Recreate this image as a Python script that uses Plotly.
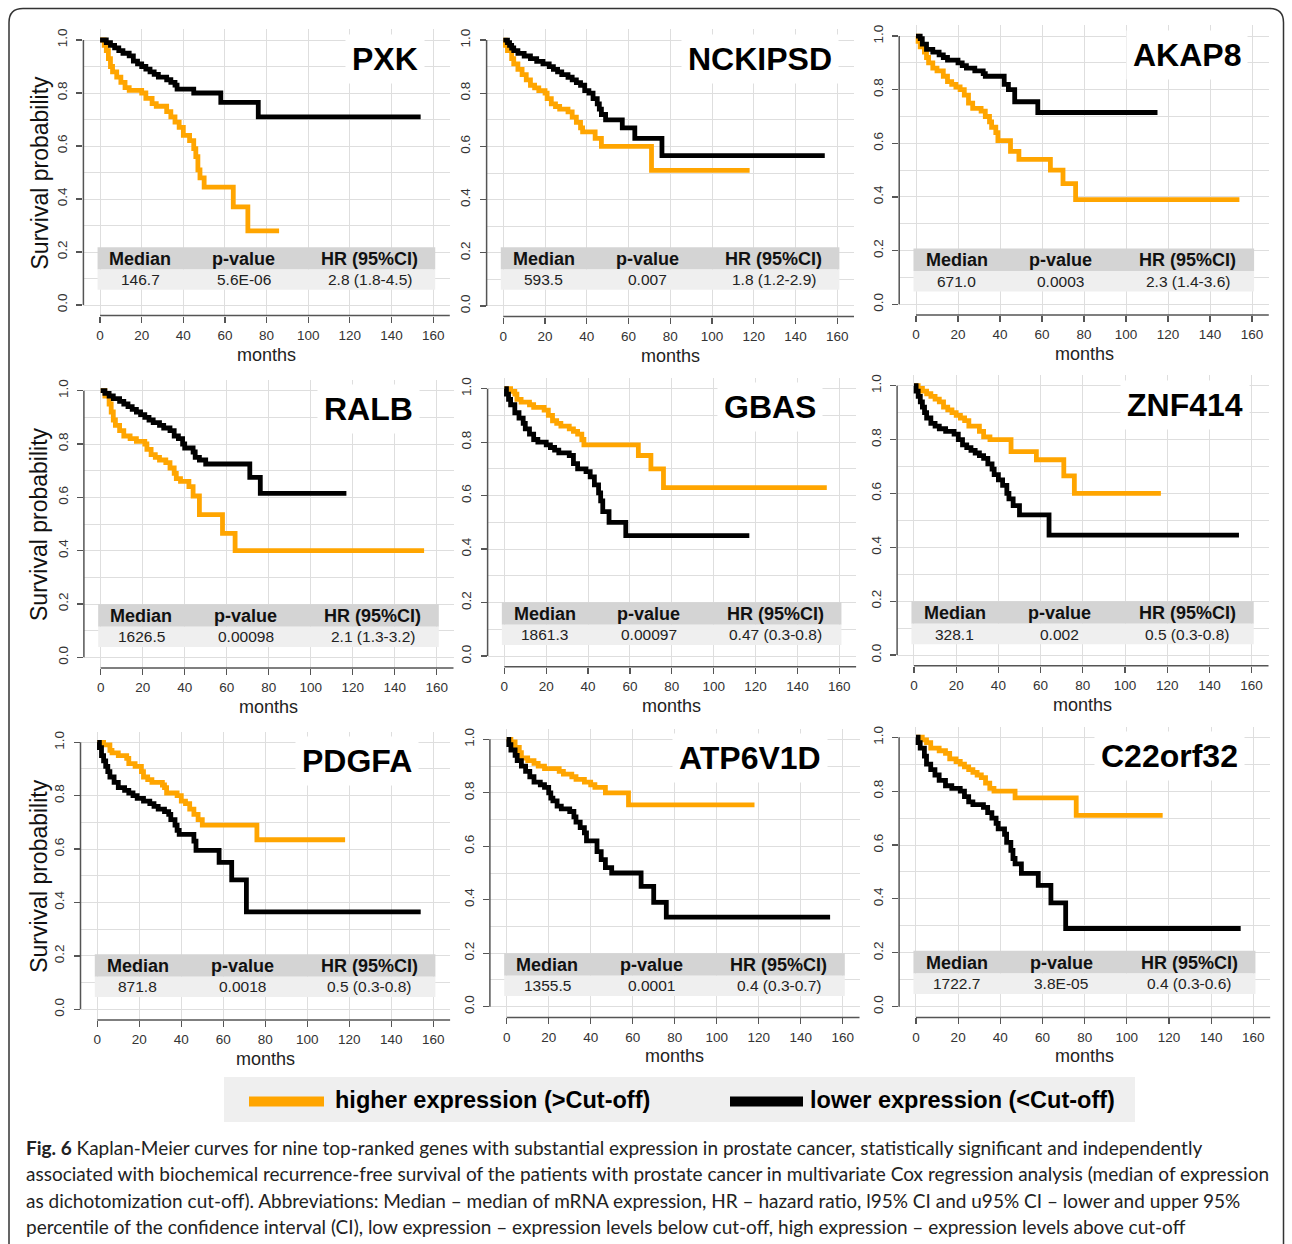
import plotly.graph_objects as go

# ---------------- data ----------------
genes = ["PXK", "NCKIPSD", "AKAP8", "RALB", "GBAS", "ZNF414", "PDGFA", "ATP6V1D", "C22orf32"]
medians = ["146.7", "593.5", "671.0", "1626.5", "1861.3", "328.1", "871.8", "1355.5", "1722.7"]
pvalues = ["5.6E-06", "0.007", "0.0003", "0.00098", "0.00097", "0.002", "0.0018", "0.0001", "3.8E-05"]
hrs = ["2.8 (1.8-4.5)", "1.8 (1.2-2.9)", "2.3 (1.4-3.6)", "2.1 (1.3-3.2)", "0.47 (0.3-0.8)",
       "0.5 (0.3-0.8)", "0.5 (0.3-0.8)", "0.4 (0.3-0.7)", "0.4 (0.3-0.6)"]
table_headers = ["Median", "p-value", "HR (95%CI)"]
x_ticks = [0, 20, 40, 60, 80, 100, 120, 140, 160]
y_ticks = [0.0, 0.2, 0.4, 0.6, 0.8, 1.0]

pxk_hi_t = [0, 2, 3, 4, 5, 6, 8, 10, 12, 14, 20, 22, 25, 27, 32, 34, 36, 38, 40, 43, 45, 46, 47, 48, 50, 64, 71, 86]
pxk_hi_s = [1, .98, .96, .93, .90, .88, .86, .84, .82, .81, .80, .78, .76, .75, .73, .71, .69, .67, .64, .62, .59, .56, .51, .48, .445, .37, .28, .28]
pxk_lo_t = [0, 3, 5, 7, 9, 11, 14, 16, 18, 20, 22, 24, 26, 28, 32, 34, 36, 37, 45, 58, 76, 154]
pxk_lo_s = [1, .99, .98, .97, .96, .95, .94, .92, .91, .90, .89, .88, .87, .86, .85, .84, .83, .815, .80, .765, .71, .71]

nck_hi_t = [0, 1, 2, 4, 5, 7, 9, 11, 13, 15, 17, 20, 21, 23, 25, 27, 31, 33, 35, 37, 38, 44, 47, 71, 118]
nck_hi_s = [1, .98, .96, .93, .91, .89, .87, .85, .83, .82, .81, .80, .78, .76, .75, .74, .73, .71, .69, .67, .655, .63, .60, .51, .51]
nck_lo_t = [0, 2, 3, 4, 5, 7, 10, 13, 16, 19, 22, 24, 26, 28, 31, 33, 35, 37, 39, 41, 43, 45, 46, 47, 49, 57, 63, 76, 154]
nck_lo_s = [1, .99, .98, .97, .96, .95, .94, .93, .92, .91, .90, .89, .88, .87, .86, .85, .84, .83, .81, .80, .78, .76, .74, .72, .70, .67, .63, .565, .565]

akap_hi_t = [0, 1, 2, 4, 5, 6, 8, 10, 13, 15, 17, 19, 21, 23, 25, 27, 31, 33, 35, 36, 38, 39, 45, 49, 64, 70, 76, 154]
akap_hi_s = [1, .98, .96, .94, .92, .90, .88, .87, .85, .83, .82, .81, .80, .78, .75, .73, .72, .70, .68, .66, .64, .61, .57, .54, .50, .45, .39, .39]
akap_lo_t = [0, 2, 3, 5, 8, 11, 13, 15, 20, 22, 24, 28, 32, 33, 42, 44, 47, 58, 115]
akap_lo_s = [1, .99, .97, .95, .94, .93, .92, .91, .90, .89, .88, .87, .86, .85, .82, .80, .755, .715, .715]

ralb_hi_t = [0, 2, 4, 5, 6, 7, 9, 11, 14, 17, 21, 22, 24, 26, 28, 31, 33, 35, 36, 38, 42, 44, 47, 58, 64, 154]
ralb_hi_s = [1, .98, .95, .92, .89, .87, .85, .83, .82, .81, .80, .78, .76, .75, .74, .73, .71, .69, .67, .66, .64, .605, .535, .465, .40, .40]
ralb_lo_t = [0, 2, 4, 6, 9, 11, 13, 15, 17, 19, 21, 23, 25, 28, 30, 33, 35, 37, 39, 40, 44, 45, 47, 50, 71, 76, 117]
ralb_lo_s = [1, .99, .98, .97, .96, .95, .94, .93, .92, .91, .90, .89, .88, .87, .86, .85, .83, .82, .80, .785, .77, .75, .74, .725, .675, .615, .615]

gbas_hi_t = [0, 3, 5, 6, 8, 12, 14, 19, 21, 23, 25, 27, 31, 33, 35, 37, 38, 64, 70, 76, 154]
gbas_hi_s = [1, .99, .98, .96, .95, .94, .93, .92, .90, .88, .87, .86, .85, .84, .83, .81, .79, .75, .70, .63, .63]
gbas_lo_t = [0, 1, 2, 3, 5, 7, 9, 10, 12, 14, 16, 20, 22, 24, 26, 31, 33, 35, 39, 41, 43, 45, 46, 47, 50, 58, 117]
gbas_lo_s = [1, .98, .96, .94, .91, .89, .87, .85, .83, .81, .80, .79, .78, .77, .76, .75, .72, .70, .69, .67, .64, .61, .58, .54, .50, .45, .45]

znf_hi_t = [0, 2, 4, 6, 8, 10, 12, 14, 16, 18, 20, 22, 24, 26, 31, 33, 36, 46, 58, 71, 76, 117]
znf_hi_s = [1, .99, .98, .97, .96, .95, .94, .92, .91, .90, .89, .88, .87, .85, .83, .81, .80, .755, .725, .665, .60, .60]
znf_lo_t = [0, 1, 2, 3, 4, 5, 6, 8, 10, 12, 15, 19, 21, 23, 25, 27, 29, 31, 33, 35, 37, 38, 40, 42, 44, 45, 47, 50, 64, 154]
znf_lo_s = [1, .98, .96, .94, .92, .90, .88, .86, .85, .84, .83, .82, .80, .78, .77, .76, .75, .74, .73, .71, .69, .67, .65, .63, .60, .58, .555, .52, .445, .445]

pdgfa_hi_t = [0, 3, 6, 7, 10, 14, 15, 18, 21, 22, 24, 26, 31, 32, 33, 38, 40, 42, 44, 46, 48, 50, 76, 118]
pdgfa_hi_s = [1, .99, .97, .96, .95, .94, .92, .91, .89, .87, .86, .85, .84, .83, .81, .80, .78, .77, .75, .73, .71, .69, .635, .635]
pdgfa_lo_t = [0, 1, 2, 3, 4, 5, 6, 8, 10, 13, 15, 17, 19, 22, 25, 27, 29, 32, 34, 35, 37, 38, 39, 46, 47, 58, 64, 71, 154]
pdgfa_lo_s = [1, .98, .95, .93, .91, .89, .87, .85, .83, .82, .81, .80, .79, .78, .77, .76, .75, .74, .73, .71, .69, .67, .655, .63, .595, .55, .485, .365, .365]

atp_hi_t = [0, 2, 4, 6, 7, 10, 13, 15, 18, 25, 27, 31, 33, 37, 40, 42, 47, 58, 118]
atp_hi_s = [1, .99, .97, .95, .93, .92, .91, .90, .89, .88, .87, .86, .85, .84, .83, .82, .80, .755, .755]
atp_lo_t = [0, 1, 2, 4, 5, 7, 9, 11, 13, 16, 18, 20, 21, 22, 24, 26, 30, 32, 33, 35, 37, 38, 43, 45, 47, 50, 64, 70, 76, 154]
atp_lo_s = [1, .98, .96, .94, .92, .90, .88, .86, .84, .83, .82, .80, .78, .77, .75, .74, .73, .71, .69, .67, .65, .62, .58, .55, .52, .50, .45, .39, .335, .335]

c22_hi_t = [0, 3, 5, 7, 11, 14, 16, 19, 21, 23, 25, 27, 29, 31, 33, 35, 37, 47, 76, 117]
c22_hi_s = [1, .99, .98, .96, .95, .94, .92, .91, .90, .89, .88, .87, .86, .85, .83, .81, .80, .775, .71, .71]
c22_lo_t = [0, 1, 2, 4, 5, 7, 9, 11, 14, 17, 21, 23, 25, 27, 32, 34, 36, 38, 39, 42, 43, 45, 46, 47, 50, 58, 64, 71, 154]
c22_lo_s = [1, .98, .96, .93, .90, .88, .86, .84, .82, .81, .80, .78, .76, .75, .74, .72, .70, .68, .66, .64, .61, .58, .55, .53, .495, .45, .385, .29, .29]

high_curves = [(pxk_hi_t, pxk_hi_s), (nck_hi_t, nck_hi_s), (akap_hi_t, akap_hi_s), (ralb_hi_t, ralb_hi_s),
               (gbas_hi_t, gbas_hi_s), (znf_hi_t, znf_hi_s), (pdgfa_hi_t, pdgfa_hi_s), (atp_hi_t, atp_hi_s),
               (c22_hi_t, c22_hi_s)]
low_curves = [(pxk_lo_t, pxk_lo_s), (nck_lo_t, nck_lo_s), (akap_lo_t, akap_lo_s), (ralb_lo_t, ralb_lo_s),
              (gbas_lo_t, gbas_lo_s), (znf_lo_t, znf_lo_s), (pdgfa_lo_t, pdgfa_lo_s), (atp_lo_t, atp_lo_s),
              (c22_lo_t, c22_lo_s)]

legend_labels = ["higher expression (>Cut-off)", "lower expression (<Cut-off)"]
caption_lines = [
    "<b>Fig. 6</b> Kaplan-Meier curves for nine top-ranked genes with substantial expression in prostate cancer, statistically significant and independently",
    "associated with biochemical recurrence-free survival of the patients with prostate cancer in multivariate Cox regression analysis (median of expression",
    "as dichotomization cut-off). Abbreviations: Median \u2013 median of mRNA expression, HR \u2013 hazard ratio, l95% CI and u95% CI \u2013 lower and upper 95%",
    "percentile of the confidence interval (CI), low expression \u2013 expression levels below cut-off, high expression \u2013 expression levels above cut-off",
]

# ---------------- layout / style ----------------
W, H = 1292, 1244
ORANGE = "#FFA500"
BLACK = "#000000"
GRID = "#dedede"
AXC = "#555555"
FONT = "Liberation Sans, Arial, sans-serif"
XR = [-8, 168]
YR = [-0.04, 1.04]

# panel plot-region in pixels: left, right, top, bottom
panels_px = [
    (83.4, 449.8, 29.4, 315.6), (486.6, 854.0, 29.4, 316.6), (899.2, 1268.8, 25.3, 315.0),
    (83.9, 453.5, 380.0, 668.0), (487.6, 856.1, 378.0, 666.7), (897.1, 1268.5, 374.9, 665.8),
    (80.5, 450.1, 731.6, 1020.0), (489.9, 859.5, 728.6, 1017.4), (899.1, 1270.2, 726.5, 1017.4),
]
title_right = [156, 161, 158, 152, 152, 159, 153, 153, 156]
table_top = [0.218, 0.221, 0.208, 0.199, 0.201, 0.200, 0.206, 0.200, 0.207]
table_cols = [19.3, 69, 129.5]


def px_x(p):
    return p / W


def px_y(p):
    return 1 - p / H


fig = go.Figure()
shapes = []
annotations = []
layout_axes = {}

for i, g in enumerate(genes):
    n = i + 1
    xa = "x" if n == 1 else f"x{n}"
    ya = "y" if n == 1 else f"y{n}"
    l, r, t, b = panels_px[i]

    ht, hs = high_curves[i]
    lt, ls = low_curves[i]
    fig.add_trace(go.Scatter(x=ht, y=hs, mode="lines", xaxis=xa, yaxis=ya, showlegend=False,
                             line=dict(color=ORANGE, width=4.8, shape="hv"), hoverinfo="skip"))
    fig.add_trace(go.Scatter(x=lt, y=ls, mode="lines", xaxis=xa, yaxis=ya, showlegend=False,
                             line=dict(color=BLACK, width=4.8, shape="hv"), hoverinfo="skip"))

    layout_axes["xaxis" if n == 1 else f"xaxis{n}"] = dict(
        domain=[px_x(l), px_x(r)], range=XR, anchor=ya, tickvals=x_ticks,
        showgrid=True, gridcolor=GRID, gridwidth=1, zeroline=False, showline=False,
        ticks="outside", ticklen=6, tickwidth=1.2, tickcolor=AXC, ticklabelstandoff=1,
        tickfont=dict(family=FONT, size=13.5, color="#333333"), fixedrange=True)
    layout_axes["yaxis" if n == 1 else f"yaxis{n}"] = dict(
        domain=[px_y(b), px_y(t)], range=YR, anchor=xa, tickvals=y_ticks, tickformat=".1f",
        tickangle=-90, showgrid=True, gridcolor=GRID, gridwidth=1, zeroline=False, showline=False,
        minor=dict(dtick=0.1, tick0=0, showgrid=True, gridcolor=GRID, gridwidth=1, ticks=""),
        ticks="outside", ticklen=6, tickwidth=1.2, tickcolor=AXC, ticklabelstandoff=4,
        tickfont=dict(family=FONT, size=13.5, color="#333333"), fixedrange=True)

    # axis lines (R style): y from 0 to 1, x from 0 to right edge
    y0px = b - (0 - YR[0]) / (YR[1] - YR[0]) * (b - t)
    y1px = b - (1 - YR[0]) / (YR[1] - YR[0]) * (b - t)
    x0px = l + (0 - XR[0]) / (XR[1] - XR[0]) * (r - l)
    shapes.append(dict(type="line", xref="paper", yref="paper", x0=px_x(l), x1=px_x(l),
                       y0=px_y(y0px), y1=px_y(y1px), line=dict(color=AXC, width=1.5)))
    shapes.append(dict(type="line", xref="paper", yref="paper", x0=px_x(x0px), x1=px_x(r),
                       y0=px_y(b), y1=px_y(b), line=dict(color=AXC, width=1.5)))

    # statistics table
    tt = table_top[i]
    shapes.append(dict(type="rect", xref=xa, yref=ya, x0=-1.2, x1=161, y0=tt - 0.084, y1=tt,
                       fillcolor="#d4d4d4", line=dict(width=0), layer="between"))
    shapes.append(dict(type="rect", xref=xa, yref=ya, x0=-1.2, x1=161, y0=tt - 0.160, y1=tt - 0.084,
                       fillcolor="#efefef", line=dict(width=0), layer="between"))
    vals = [medians[i], pvalues[i], hrs[i]]
    for c, cx in enumerate(table_cols):
        annotations.append(dict(xref=xa, yref=ya, x=cx, y=tt - 0.044, text=f"<b>{table_headers[c]}</b>",
                                showarrow=False, font=dict(family=FONT, size=18, color="#111111"),
                                xanchor="center", yanchor="middle"))
        annotations.append(dict(xref=xa, yref=ya, x=cx, y=tt - 0.122, text=vals[c],
                                showarrow=False, font=dict(family=FONT, size=15.5, color="#222222"),
                                xanchor="center", yanchor="middle"))

    # gene name
    annotations.append(dict(xref=xa, yref=ya, x=title_right[i], y=0.93, text=f"<b>{g}</b>",
                            showarrow=False, xanchor="right", yanchor="middle",
                            font=dict(family=FONT, size=32, color="#000000"),
                            bgcolor="#ffffff", borderpad=6))

    # x axis title
    annotations.append(dict(xref=xa, yref="paper", x=80, y=px_y(b + 39), text="months", showarrow=False,
                            xanchor="center", yanchor="middle", font=dict(family=FONT, size=18, color="#222222")))
    # y axis title (left column)
    if i % 3 == 0:
        ymid = (y0px + y1px) / 2
        annotations.append(dict(xref="paper", yref="paper", x=px_x(39), y=px_y(ymid),
                                text="Survival probability", textangle=-90, showarrow=False,
                                xanchor="center", yanchor="middle",
                                font=dict(family=FONT, size=23, color="#111111")))

# legend box
shapes.append(dict(type="rect", xref="paper", yref="paper", x0=px_x(224), x1=px_x(1135),
                   y0=px_y(1122), y1=px_y(1077), fillcolor="#efefef", line=dict(width=0), layer="below"))
shapes.append(dict(type="line", xref="paper", yref="paper", x0=px_x(249), x1=px_x(324),
                   y0=px_y(1101.5), y1=px_y(1101.5), line=dict(color=ORANGE, width=10)))
shapes.append(dict(type="line", xref="paper", yref="paper", x0=px_x(730), x1=px_x(803),
                   y0=px_y(1101.5), y1=px_y(1101.5), line=dict(color=BLACK, width=10)))
annotations.append(dict(xref="paper", yref="paper", x=px_x(333), y=px_y(1100), text=f"<b>{legend_labels[0]}</b>",
                        showarrow=False, xanchor="left", yanchor="middle",
                        font=dict(family=FONT, size=23.5, color="#000000")))
annotations.append(dict(xref="paper", yref="paper", x=px_x(808), y=px_y(1100), text=f"<b>{legend_labels[1]}</b>",
                        showarrow=False, xanchor="left", yanchor="middle",
                        font=dict(family=FONT, size=23.5, color="#000000")))

# caption
cap_y = [1147, 1173.5, 1200, 1226]
for k, line in enumerate(caption_lines):
    annotations.append(dict(xref="paper", yref="paper", x=px_x(24), y=px_y(cap_y[k]), text=line,
                            showarrow=False, xanchor="left", yanchor="middle",
                            font=dict(family="Lato, Open Sans, sans-serif", size=19, color="#222222")))

# outer frame with rounded top corners
L, R, T, B, rad = 9, 1283.5, 8.5, 1260, 14
path = (f"M {px_x(L)},{px_y(B)} L {px_x(L)},{px_y(T + rad)} "
        f"Q {px_x(L)},{px_y(T)} {px_x(L + rad)},{px_y(T)} "
        f"L {px_x(R - rad)},{px_y(T)} Q {px_x(R)},{px_y(T)} {px_x(R)},{px_y(T + rad)} "
        f"L {px_x(R)},{px_y(B)}")
shapes.append(dict(type="path", xref="paper", yref="paper", path=path, line=dict(color="#333333", width=1.5)))

fig.update_layout(
    width=W, height=H, margin=dict(l=0, r=0, t=0, b=0),
    paper_bgcolor="#ffffff", plot_bgcolor="#ffffff",
    shapes=shapes, annotations=annotations, showlegend=False,
    **layout_axes,
)

fig.write_html("out.html", config={"displayModeBar": False, "staticPlot": True},
               post_script="document.body.style.margin='0px';document.body.style.overflow='hidden';")
